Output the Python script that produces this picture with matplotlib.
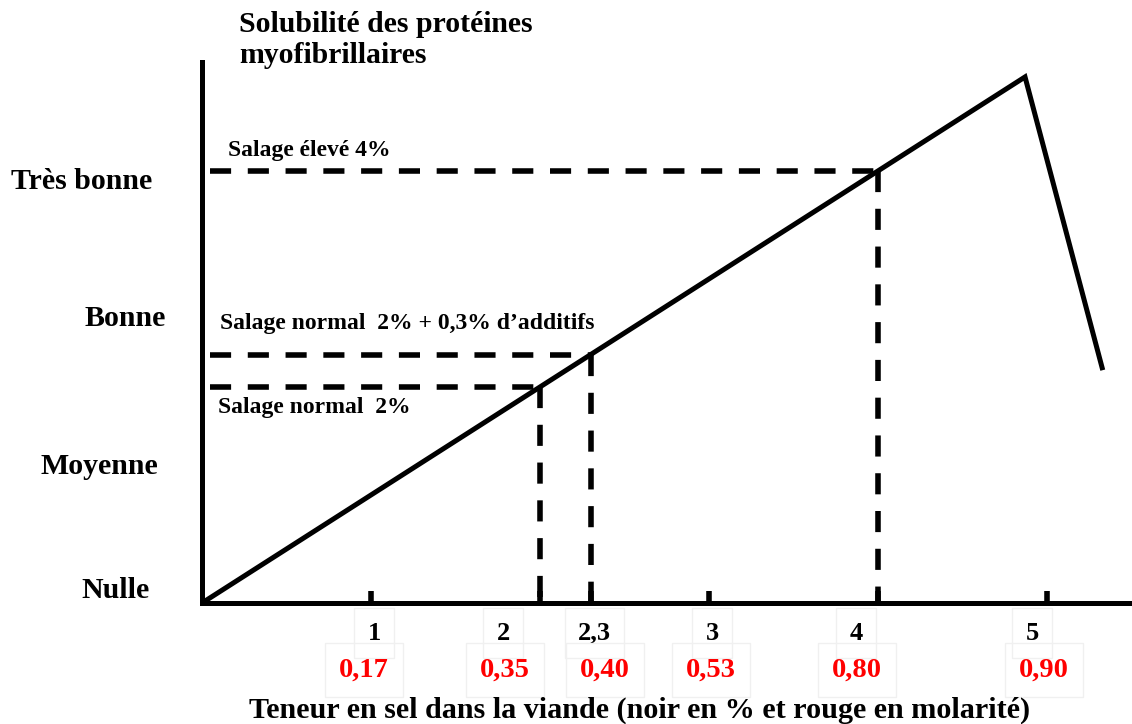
import matplotlib
matplotlib.use('Agg')
import matplotlib.pyplot as plt
import numpy as np

plt.rcParams['font.family'] = ['Liberation Serif', 'DejaVu Serif']
plt.rcParams['font.weight'] = 'bold'

# ---------------- data ----------------
curve_x = [0.0, 4.87, 5.33]          # salt content (%)
curve_y = [0.0, 4.88, 2.16]          # solubility (arbitrary units)
salt_pct = [1, 2, 2.3, 3, 4, 5]
pct_labels = ['1', '2', '2,3', '3', '4', '5']
molar_labels = ['0,17', '0,35', '0,40', '0,53', '0,80', '0,90']
ref_x = [2.0, 2.3, 4.0]
ref_labels = ['Salage normal  2%', 'Salage normal  2% + 0,3% d\u2019additifs', 'Salage élevé 4%']
levels = ['Nulle', 'Moyenne', 'Bonne', 'Très bonne']
level_y = [0.12, 1.27, 2.64, 3.91]
title_lines = ['Solubilité des protéines', 'myofibrillaires']
xlabel = 'Teneur en sel dans la viande (noir en % et rouge en molarité)'

# ---------------- layout ----------------
W, H = 1132, 724
PX_X, PX_Y = 169.0, 107.8
fig = plt.figure(figsize=(W / 100, H / 100), dpi=100)
ax = fig.add_axes([202 / W, 121 / H, 930 / W, 541 / H])
ax.set_xlim(0, 930 / PX_X)
ax.set_ylim(0, 541 / PX_Y)

for s in ['top', 'right']:
    ax.spines[s].set_visible(False)
for s in ['left', 'bottom']:
    ax.spines[s].set_linewidth(3.6)
    ax.spines[s].set_capstyle('projecting')

ax.set_yticks([])
ax.set_xticks(salt_pct)
ax.set_xticklabels([])
ax.tick_params(axis='x', direction='in', length=9, width=4, color='black')

# main curve
ax.plot(curve_x, curve_y, color='black', lw=3.6, solid_joinstyle='miter',
        solid_capstyle='butt', clip_on=False, zorder=3)

# dashed reference lines
dash = (0, (3.8, 3.0))
ref_y = np.interp(ref_x, curve_x, curve_y)
for xr, yr in zip(ref_x, ref_y):
    ax.plot([0.05, xr], [yr, yr], color='black', lw=4, linestyle=dash, zorder=2)
    ax.plot([xr, xr], [yr, 0], color='black', lw=4, linestyle=dash, zorder=2)

# reference texts
ref_offsets = [(16, -21), (18, 31), (26, 20)]
for lab, yr, off in zip(ref_labels, ref_y, ref_offsets):
    ax.annotate(lab, xy=(0, yr), xycoords=('axes fraction', 'data'),
                xytext=off, textcoords='offset pixels', ha='left', va='center',
                fontsize=17, fontweight='bold')

# level labels
level_dx = [-52, -44, -36, -50]
for lab, yv, dx in zip(levels, level_y, level_dx):
    ax.annotate(lab, xy=(0, yv), xycoords=('axes fraction', 'data'),
                xytext=(dx, 0), textcoords='offset pixels', ha='right', va='center',
                fontsize=21.5, fontweight='bold')

# x tick labels (percent in black, molarity in red) with faint frames
pct_dx = [3, -37, 4, 3, -22, -15]
mol_dx = [-7, -35, 14, 2, -21, -3]
frame = dict(boxstyle='square,pad=0.5', fc='none', ec='#f0f0f0', lw=1.0)
for xv, lab, dx in zip(salt_pct, pct_labels, pct_dx):
    ax.annotate(lab, xy=(xv, 0), xycoords=('data', 'axes fraction'),
                xytext=(dx, -30), textcoords='offset pixels', ha='center', va='center',
                fontsize=19, fontweight='bold', color='black', bbox=frame, zorder=1)
for xv, lab, dx in zip(salt_pct, molar_labels, mol_dx):
    ax.annotate(lab, xy=(xv, 0), xycoords=('data', 'axes fraction'),
                xytext=(dx, -67), textcoords='offset pixels', ha='center', va='center',
                fontsize=20.5, fontweight='bold', color='#ff0000', bbox=frame, zorder=1)

# axis title / caption
for i, line in enumerate(title_lines):
    fig.text(239 / W, 1 - (32 + 31 * i) / H, line,
             ha='left', va='baseline', fontsize=21.4, fontweight='bold')
fig.text(640 / W, 1 - 710 / H, xlabel,
         ha='center', va='center', fontsize=21.7, fontweight='bold')

fig.savefig('out.png', dpi=100)
